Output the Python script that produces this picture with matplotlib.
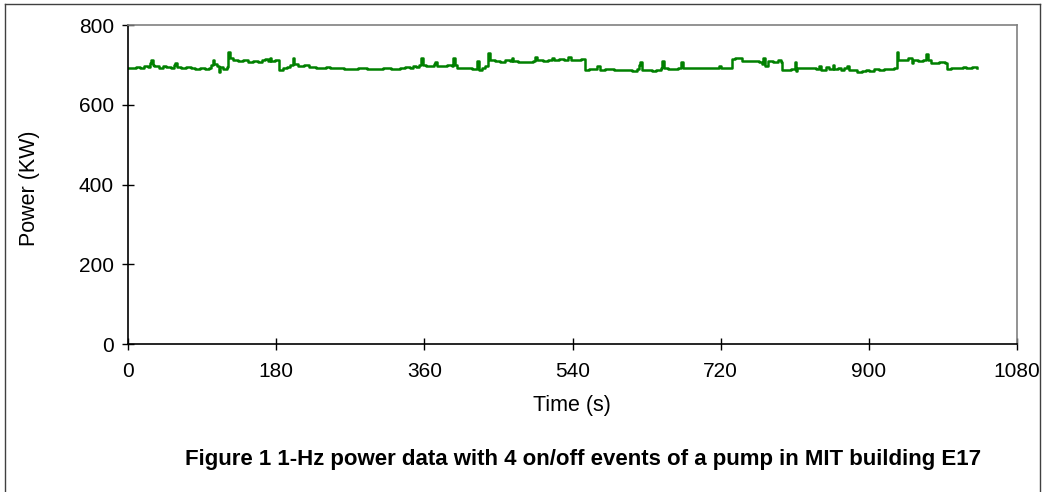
import matplotlib
matplotlib.use('Agg')
import matplotlib.pyplot as plt
from matplotlib.lines import Line2D

# datos (tiempo en s, potencia en kW), trazo escalonado
time_s = [0, 5, 10, 14, 20, 24, 27, 28, 30, 32, 38, 42, 46, 52, 56, 57, 59, 64, 70, 76,
          82, 88, 94, 98, 101, 103, 105, 108, 110, 112, 116, 120, 122, 124, 128, 134, 140,
          146, 152, 158, 163, 166, 170, 172, 174, 178, 184, 188, 193, 197, 200, 202, 206,
          214, 220, 228, 234, 240, 246, 256, 262, 270, 280, 290, 300, 310, 320, 330, 336,
          342, 346, 350, 354, 356, 358, 362, 368, 372, 373, 375, 382, 388, 394, 395, 397,
          400, 410, 418, 424, 426, 430, 434, 437, 440, 446, 452, 458, 464, 466, 468, 474,
          480, 486, 492, 494, 497, 504, 510, 515, 518, 524, 530, 535, 538, 545, 550, 555,
          560, 566, 570, 573, 580, 590, 600, 606, 612, 618, 621, 622, 624, 630, 636, 642,
          648, 649, 651, 656, 662, 668, 672, 674, 680, 690, 700, 710, 718, 720, 730, 734,
          738, 742, 746, 756, 766, 770, 772, 774, 777, 784, 790, 793, 795, 800, 806, 810,
          811, 813, 820, 830, 836, 840, 842, 848, 852, 856, 858, 862, 866, 870, 874, 876,
          880, 886, 892, 896, 900, 906, 912, 918, 924, 930, 934, 936, 942, 948, 952, 954,
          960, 966, 970, 972, 975, 985, 992, 995, 1000, 1008, 1015, 1018, 1025, 1031]
power_kw = [693, 691, 694, 692, 696, 694, 705, 712, 700, 696, 693, 697, 694, 693, 699, 704, 694, 692, 694, 691,
            690, 692, 689, 693, 700, 712, 703, 698, 683, 695, 690, 694, 733, 718, 712, 709, 711,
            708, 710, 707, 711, 714, 709, 717, 710, 712, 688, 691, 694, 699, 716, 702, 697,
            699, 695, 692, 691, 694, 691, 693, 690, 689, 691, 689, 690, 692, 689, 691, 694,
            693, 697, 695, 700, 716, 700, 697, 698, 701, 708, 697, 696, 699, 696, 718, 700,
            691, 692, 690, 709, 687, 693, 697, 729, 713, 710, 707, 711, 709, 718, 709, 706,
            708, 706, 710, 720, 712, 709, 711, 716, 713, 714, 712, 720, 713, 712, 714, 687,
            689, 690, 696, 688, 689, 687, 686, 688, 685, 689, 699, 708, 688, 686, 685, 688,
            691, 709, 692, 690, 690, 692, 708, 693, 692, 693, 691, 692, 696, 692, 692, 715,
            718, 716, 710, 709, 706, 703, 718, 697, 709, 708, 712, 708, 687, 688, 690, 707,
            684, 692, 692, 693, 690, 697, 688, 694, 690, 699, 689, 692, 687, 693, 697, 688,
            686, 683, 685, 688, 685, 689, 686, 690, 690, 692, 733, 712, 713, 718, 704, 712,
            710, 713, 728, 712, 705, 706, 705, 689, 691, 692, 695, 692, 694, 693]

x_ticks = [0, 180, 360, 540, 720, 900, 1080]
y_ticks = [0, 200, 400, 600, 800]

plt.rcParams['font.family'] = ['Liberation Sans', 'DejaVu Sans']

fig = plt.figure(figsize=(10.45, 4.92), dpi=100)
ax = fig.add_axes([128 / 1045, 1 - 344 / 492, 889 / 1045, 319 / 492])

ax.plot(time_s, power_kw, drawstyle='steps-post', color='#008000', lw=1.8)

ax.set_xlim(0, 1080)
ax.set_ylim(0, 800)
ax.set_xticks(x_ticks)
ax.set_yticks(y_ticks)
ax.tick_params(direction='inout', length=8, width=1, labelsize=15, color='black')
ax.tick_params(axis='x', pad=9)
ax.tick_params(axis='y', pad=6)

ax.spines['top'].set_color('#808080')
ax.spines['right'].set_color('#808080')
ax.spines['left'].set_color('black')
ax.spines['bottom'].set_color('black')
for s in ax.spines.values():
    s.set_linewidth(1.2)

fig.text(30 / 1045, 1 - 188 / 492, 'Power (KW)', rotation=90, ha='center', va='center', fontsize=15.5)
fig.text(572 / 1045, 1 - 406 / 492, 'Time (s)', ha='center', va='center', fontsize=15.5)
fig.text(583 / 1045, 1 - 460 / 492, 'Figure 1 1-Hz power data with 4 on/off events of a pump in MIT building E17',
         ha='center', va='center', fontsize=16, fontweight='bold')

# marco exterior
bx0, bx1, by1 = 5 / 1045, 1040 / 1045, 1 - 4 / 492
for xs, ys in [([bx0, bx0], [0, by1]), ([bx0, bx1], [by1, by1]), ([bx1, bx1], [by1, 0])]:
    fig.add_artist(Line2D(xs, ys, color='#404040', lw=1, transform=fig.transFigure))

fig.savefig('out.png', dpi=100)
